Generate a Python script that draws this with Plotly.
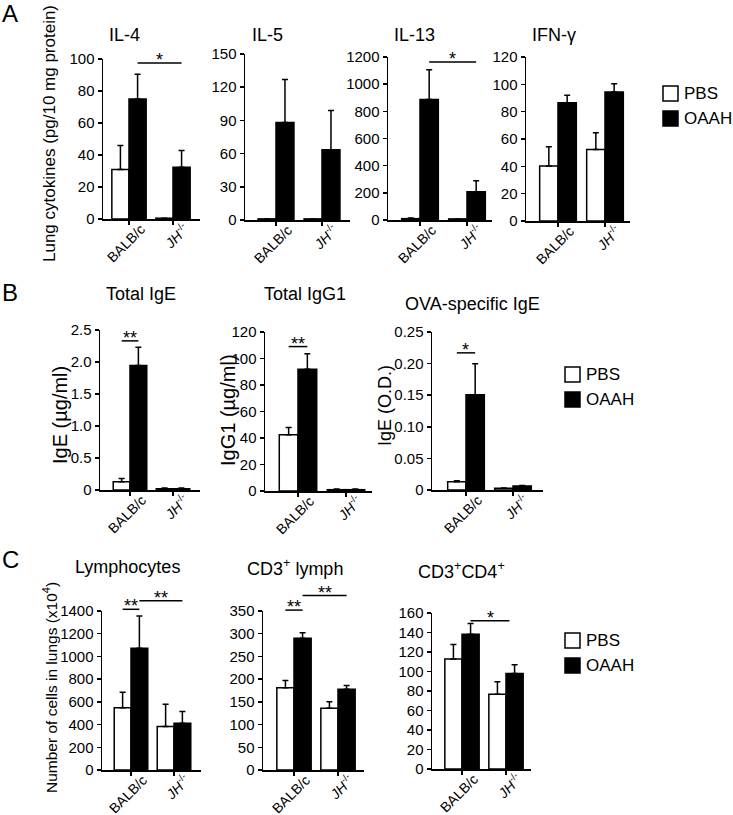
import plotly.graph_objects as go

W, H = 733, 815

# ---------------- data ----------------
groups = ["BALB/c", "JH-/-"]
group_ticktext = ["BALB/c", "<i>JH</i><sup>-/-</sup>"]
series_names = ["PBS", "OAAH"]

# Panel A: lung cytokines (pg/10 mg protein)
il4_pbs, il4_pbs_sem = [31, 0.5], [15, 0]
il4_oaah, il4_oaah_sem = [75, 32.4], [15.5, 10.4]
il5_pbs, il5_pbs_sem = [1, 1], [0, 0]
il5_oaah, il5_oaah_sem = [88, 63.5], [39, 35.5]
il13_pbs, il13_pbs_sem = [10, 8], [5, 0]
il13_oaah, il13_oaah_sem = [887, 208], [220, 81]
ifng_pbs, ifng_pbs_sem = [40.2, 52.4], [14.2, 12.2]
ifng_oaah, ifng_oaah_sem = [86.6, 94.4], [5.4, 6.1]

# Panel B: serum immunoglobulins
ige_pbs, ige_pbs_sem = [0.13, 0.02], [0.05, 0.01]
ige_oaah, ige_oaah_sem = [1.945, 0.02], [0.285, 0.01]
igg1_pbs, igg1_pbs_sem = [42.5, 1], [5.5, 0.5]
igg1_oaah, igg1_oaah_sem = [91.8, 1], [11.8, 0.5]
ova_pbs, ova_pbs_sem = [0.013, 0.0026], [0.0015, 0.0005]
ova_oaah, ova_oaah_sem = [0.1506, 0.0063], [0.049, 0.0008]

# Panel C: number of cells in lungs (x10^4)
lym_pbs, lym_pbs_sem = [549, 382], [135, 196]
lym_oaah, lym_oaah_sem = [1071, 411], [285, 103]
cd3_pbs, cd3_pbs_sem = [181, 136], [16, 14]
cd3_oaah, cd3_oaah_sem = [290, 178], [12, 8]
cd4_pbs, cd4_pbs_sem = [112.7, 76.6], [15, 13]
cd4_oaah, cd4_oaah_sem = [138.2, 98], [11, 9]

# y tick values / labels
il4_ticks = [0, 20, 40, 60, 80, 100]
il5_ticks = [0, 30, 60, 90, 120, 150]
il13_ticks = [0, 200, 400, 600, 800, 1000, 1200]
ifng_ticks = [0, 20, 40, 60, 80, 100, 120]
ige_ticks = [0, 0.5, 1.0, 1.5, 2.0, 2.5]
ige_ticklabels = ["0", "0.5", "1.0", "1.5", "2.0", "2.5"]
igg1_ticks = [0, 20, 40, 60, 80, 100, 120]
ova_ticks = [0, 0.05, 0.10, 0.15, 0.20, 0.25]
ova_ticklabels = ["0", "0.05", "0.10", "0.15", "0.20", "0.25"]
lym_ticks = [0, 200, 400, 600, 800, 1000, 1200, 1400]
cd3_ticks = [0, 50, 100, 150, 200, 250, 300, 350]
cd4_ticks = [0, 20, 40, 60, 80, 100, 120, 140, 160]

panels = [
    dict(title="IL-4", pbs=il4_pbs, pbs_sem=il4_pbs_sem, oaah=il4_oaah, oaah_sem=il4_oaah_sem,
         ticks=il4_ticks, ticklabels=None,
         geo=(103, 129, 173, 200, 59, 219), ttl=(107, 35, "left"),
         sig=[("oaah_b", "oaah_j", 97.5, "*")]),
    dict(title="IL-5", pbs=il5_pbs, pbs_sem=il5_pbs_sem, oaah=il5_oaah, oaah_sem=il5_oaah_sem,
         ticks=il5_ticks, ticklabels=None,
         geo=(245, 276, 322, 350, 54, 220), ttl=(250, 35, "left"), sig=[]),
    dict(title="IL-13", pbs=il13_pbs, pbs_sem=il13_pbs_sem, oaah=il13_oaah, oaah_sem=il13_oaah_sem,
         ticks=il13_ticks, ticklabels=None,
         geo=(388, 420, 467, 492, 57, 220), ttl=(392, 35, "left"),
         sig=[("oaah_b", "oaah_j", 1163, "*")]),
    dict(title="IFN-γ", pbs=ifng_pbs, pbs_sem=ifng_pbs_sem, oaah=ifng_oaah, oaah_sem=ifng_oaah_sem,
         ticks=ifng_ticks, ticklabels=None,
         geo=(526, 558, 605, 630, 57, 221), ttl=(530, 35, "left"), sig=[]),
    dict(title="Total IgE", pbs=ige_pbs, pbs_sem=ige_pbs_sem, oaah=ige_oaah, oaah_sem=ige_oaah_sem,
         ticks=ige_ticks, ticklabels=ige_ticklabels,
         geo=(100, 130, 173, 200, 330, 490), ttl=(141, 294, "center"),
         sig=[("pbs_b", "oaah_b", 2.33, "**")]),
    dict(title="Total IgG1", pbs=igg1_pbs, pbs_sem=igg1_pbs_sem, oaah=igg1_oaah, oaah_sem=igg1_oaah_sem,
         ticks=igg1_ticks, ticklabels=None,
         geo=(265, 298, 346, 372, 332, 491), ttl=(305, 294, "center"),
         sig=[("pbs_b", "oaah_b", 109, "**")]),
    dict(title="OVA-specific IgE", pbs=ova_pbs, pbs_sem=ova_pbs_sem, oaah=ova_oaah, oaah_sem=ova_oaah_sem,
         ticks=ova_ticks, ticklabels=ova_ticklabels,
         geo=(432, 466, 513, 543, 332, 490), ttl=(472, 304, "center"),
         sig=[("pbs_b", "oaah_b", 0.217, "*")]),
    dict(title="Lymphocytes", pbs=lym_pbs, pbs_sem=lym_pbs_sem, oaah=lym_oaah, oaah_sem=lym_oaah_sem,
         ticks=lym_ticks, ticklabels=None,
         geo=(102, 131, 174, 201, 611, 770), ttl=(127, 567, "center"),
         sig=[("pbs_b", "oaah_b", 1415, "**"), ("oaah_b", "oaah_j", 1490, "**")]),
    dict(title="CD3<sup>+</sup> lymph", pbs=cd3_pbs, pbs_sem=cd3_pbs_sem, oaah=cd3_oaah, oaah_sem=cd3_oaah_sem,
         ticks=cd3_ticks, ticklabels=None,
         geo=(263, 294, 338, 364, 611, 770), ttl=(295, 567, "center"),
         sig=[("pbs_b", "oaah_b", 352, "**"), ("oaah_b", "oaah_j", 384, "**")]),
    dict(title="CD3<sup>+</sup>CD4<sup>+</sup>", pbs=cd4_pbs, pbs_sem=cd4_pbs_sem, oaah=cd4_oaah, oaah_sem=cd4_oaah_sem,
         ticks=cd4_ticks, ticklabels=None,
         geo=(432, 462, 506, 531, 613, 769), ttl=(461, 570, "center"),
         sig=[("oaah_b", "jh_end", 152, "*")]),
]

FONT = "Liberation Sans, Arial, sans-serif"
BW = 0.39  # bar width in category units
LW = 1.5


def px(x):
    return x / W


def py(y):
    return 1 - y / H


fig = go.Figure()
shapes, annotations = [], []
xpos = [0, 1]
centers = {"pbs_b": -BW / 2, "oaah_b": BW / 2, "pbs_j": 1 - BW / 2, "oaah_j": 1 + BW / 2,
           "jh_end": 1 + BW * 0.2}

for i, p in enumerate(panels):
    n = "" if i == 0 else str(i + 1)
    xa, ya = "x" + n, "y" + n
    a0, t0, t1, a1, top, bot = p["geo"]
    S = t1 - t0
    xr = [(a0 - t0) / S, 1 + (a1 - t1) / S]
    ymax = p["ticks"][-1]

    fig.add_trace(go.Bar(
        x=xpos, y=p["pbs"], width=BW, offset=-BW, xaxis=xa, yaxis=ya,
        marker=dict(color="white", line=dict(color="black", width=LW)),
        error_y=dict(type="data", array=p["pbs_sem"], arrayminus=[0, 0], symmetric=False,
                     color="black", thickness=LW, width=3),
        showlegend=False, name="PBS", hoverinfo="skip"))
    fig.add_trace(go.Bar(
        x=xpos, y=p["oaah"], width=BW, offset=0, xaxis=xa, yaxis=ya,
        marker=dict(color="black", line=dict(color="black", width=LW)),
        error_y=dict(type="data", array=p["oaah_sem"], arrayminus=[0, 0], symmetric=False,
                     color="black", thickness=LW, width=3),
        showlegend=False, name="OAAH", hoverinfo="skip"))

    axis_common = dict(showline=True, linecolor="black", linewidth=LW, ticks="outside",
                       ticklen=4, tickwidth=LW, tickcolor="black", showgrid=False,
                       zeroline=False, automargin=False)
    fig.update_layout(**{
        ("xaxis" + n): dict(domain=[px(a0), px(a1)], range=xr, tickvals=xpos,
                            ticktext=group_ticktext, tickangle=-45, anchor=ya,
                            ticklabelshift=12, ticklabelstandoff=-9,
                            tickfont=dict(family=FONT, size=14, color="black"), **axis_common),
        ("yaxis" + n): dict(domain=[py(bot), py(top)], range=[0, ymax], tickvals=p["ticks"],
                            ticktext=p["ticklabels"] if p["ticklabels"] else [str(t) for t in p["ticks"]],
                            anchor=xa, tickfont=dict(family=FONT, size=15, color="black"),
                            **axis_common),
    })

    tx, ty, anc = p["ttl"]
    annotations.append(dict(text=p["title"], x=px(tx), y=py(ty), xref="paper", yref="paper",
                            xanchor=anc, yanchor="middle", showarrow=False,
                            font=dict(family=FONT, size=18, color="black")))

    for (c0, c1, yv, star) in p["sig"]:
        yd = yv / ymax
        shapes.append(dict(type="line", xref=xa, yref=ya + " domain",
                           x0=centers[c0], x1=centers[c1], y0=yd, y1=yd,
                           line=dict(color="black", width=LW)))
        annotations.append(dict(text=star, x=(centers[c0] + centers[c1]) / 2, y=yd,
                                xref=xa, yref=ya + " domain", xanchor="center", yanchor="bottom",
                                showarrow=False, yshift=-9,
                                font=dict(family=FONT, size=18, color="black")))

# y-axis titles (text, x, y, font size)
ytitles = [
    ("Lung cytokines (pg/10 mg protein)", 50, 134, 17),
    ("IgE (µg/ml)", 60, 415, 20),
    ("IgG1 (µg/ml)", 228, 410, 20),
    ("IgE (O.D.)", 385, 406, 18),
    ("Number of cells in lungs (x10<sup>4</sup>)", 50, 688, 15.5),
]
for t, x, y, fs in ytitles:
    annotations.append(dict(text=t, x=px(x), y=py(y), xref="paper", yref="paper",
                            xanchor="center", yanchor="middle", textangle=-90, showarrow=False,
                            font=dict(family=FONT, size=fs, color="black")))

# panel letters
for t, x, y in [("A", 0, 13), ("B", 0, 293), ("C", 0, 559)]:
    annotations.append(dict(text=t, x=px(x), y=py(y), xref="paper", yref="paper",
                            xanchor="left", yanchor="middle", showarrow=False,
                            font=dict(family=FONT, size=24, color="black")))

# legends (box + label)
for (lx, ly) in [(663, 86), (565, 367), (565, 633)]:
    for k, (name, fill) in enumerate([("PBS", "white"), ("OAAH", "black")]):
        y0 = ly + k * 25
        shapes.append(dict(type="rect", xref="paper", yref="paper",
                           x0=px(lx), x1=px(lx + 15), y0=py(y0 + 15), y1=py(y0),
                           fillcolor=fill, line=dict(color="black", width=LW)))
        annotations.append(dict(text=name, x=px(lx + 19), y=py(y0 + 7.5), xref="paper", yref="paper",
                                xanchor="left", yanchor="middle", showarrow=False,
                                font=dict(family=FONT, size=17, color="black")))

fig.update_layout(
    template="none",
    width=W, height=H, margin=dict(l=0, r=0, t=0, b=0, pad=0),
    paper_bgcolor="white", plot_bgcolor="white", barmode="overlay",
    shapes=shapes, annotations=annotations, showlegend=False,
    font=dict(family=FONT, color="black"), hovermode=False,
)

fig.write_html(
    "out.html",
    config={"displayModeBar": False, "staticPlot": True},
    post_script="document.body.style.margin='0';document.body.style.overflow='hidden';",
)
